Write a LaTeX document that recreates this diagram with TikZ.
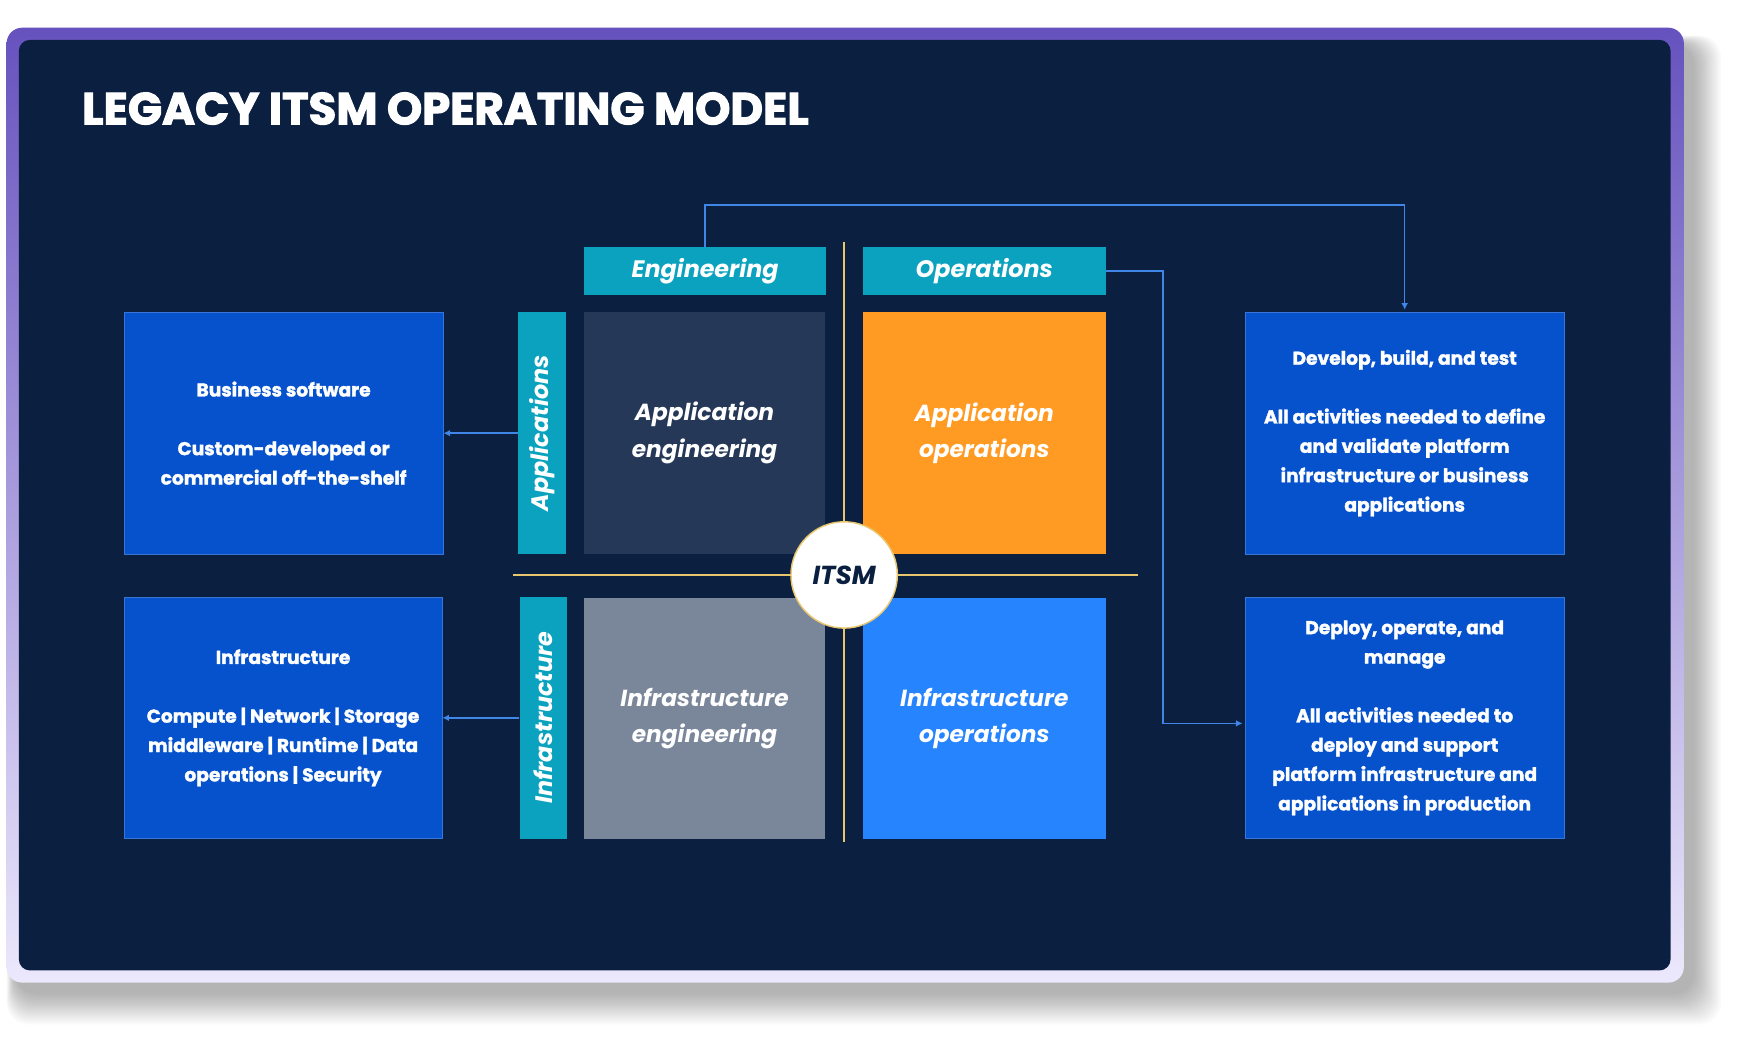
\documentclass[tikz,border=0pt]{standalone}
\usepackage{fontspec}
\setmainfont{Poppins}
\newfontfamily\heavyfont{Poppins}[UprightFeatures={FakeBold=0}, BoldFeatures={FakeBold=1.6}]
\newfontfamily\titlefont{Poppins}[UprightFeatures={FakeBold=0}, BoldFeatures={FakeBold=2.4}]
\usetikzlibrary{arrows.meta}
\definecolor{navy}{HTML}{0B1F40}
\definecolor{teal}{HTML}{0AA2BE}
\definecolor{slate}{HTML}{253858}
\definecolor{grayq}{HTML}{7A869A}
\definecolor{orangeq}{HTML}{FF9A22}
\definecolor{blueq}{HTML}{2684FF}
\definecolor{boxblue}{HTML}{0652CC}
\definecolor{connc}{HTML}{3F86E6}
\definecolor{linec}{HTML}{E8C66E}
\definecolor{frameTop}{HTML}{6652BE}
\definecolor{frameBot}{HTML}{ECE8FC}
\tikzset{
  quad/.style={minimum width=218pt, minimum height=218pt, inner sep=0pt, align=center, text=white,
    font=\fontsize{21}{33}\selectfont\bfseries\itshape},
  header/.style={fill=teal, minimum width=219pt, minimum height=43pt, inner sep=0pt, text=white,
    font=\fontsize{21.5}{22}\selectfont\bfseries\itshape},
  sidehdr/.style={fill=teal, minimum width=218pt, minimum height=43pt, inner sep=0pt, text=white, rotate=90,
    font=\fontsize{21.5}{22}\selectfont\bfseries\itshape},
  infobox/.style={fill=boxblue, draw=boxblue!80!white, line width=0.6pt, minimum width=288pt, minimum height=218pt,
    inner sep=0pt, align=center, text=white, font=\heavyfont\fontsize{16.8}{26.5}\selectfont\bfseries},
  conn/.style={draw=connc, line width=1.3pt, -{Latex[length=6pt,width=6pt]}},
  axis/.style={draw=linec, line width=1.3pt}
}
\begin{document}
\begin{tikzpicture}[x=1pt,y=-1pt]
\useasboundingbox (0,0) rectangle (1568,938);
\fill[white] (0,0) rectangle (1568,938);
% shadow
\foreach \i in {1,...,16} {
  \fill[black, opacity=0.018, rounded corners=20] (14-\i*0.5, 40-\i*0.5) rectangle (1528+\i*1.6, 896+\i*1.8);
}
% frame
\shade[rounded corners=14, top color=frameTop, bottom color=frameBot] (6,25) rectangle (1520,887);
\fill[navy, rounded corners=10] (17,36) rectangle (1508,876);
% title
\node[anchor=west, text=white, font=\titlefont\fontsize{40.5}{42}\selectfont\bfseries, inner sep=0pt] (title) at (74,98) {LEGACY ITSM OPERATING MODEL};
% axes
\coordinate (vt) at (762,218);
\coordinate (vb) at (762,760);
\coordinate (hl) at (463,519);
\coordinate (hr) at (1027,519);
\draw[axis] (vt) -- (vb);
\draw[axis] (hl) -- (hr);
% headers
\node[header] (eng) at (636.5,244.5) {Engineering};
\node[header] (ops) at (888.5,244.5) {Operations};
\node[sidehdr] (appl) at (489.5,391) {Applications};
\node[sidehdr] (infl) at (490.5,648) {Infrastructure};
% quadrants
\node[quad, fill=slate] (ae) at (636,391) {Application\\engineering};
\node[quad, fill=orangeq, minimum width=219pt] (ao) at (888.5,391) {Application\\operations};
\node[quad, fill=grayq, minimum height=217pt] (ie) at (636,648.5) {Infrastructure\\engineering};
\node[quad, fill=blueq, minimum width=219pt, minimum height=217pt] (io) at (888.5,648.5) {Infrastructure\\operations};
% ITSM circle
\node[circle, fill=white, draw=linec, line width=1.3pt, minimum size=96pt, inner sep=0pt, text=navy,
  font=\fontsize{23.5}{24}\selectfont\bfseries\itshape] (itsm) at (762,519) {ITSM};
% info boxes
\node[infobox] (bs) at (256,391) {Business software\\[26.5pt]Custom-developed or\\commercial off-the-shelf};
\node[infobox, minimum width=287pt] (inf) at (255.5,648) {Infrastructure\\[26.5pt]Compute | Network | Storage\\middleware | Runtime | Data\\operations | Security};
\node[infobox] (dev) at (1268,391) {Develop, build, and test\\[26.5pt]All activities needed to define\\and validate platform\\infrastructure or business\\applications};
\node[infobox] (dep) at (1268,648) {Deploy, operate, and\\manage\\[26.5pt]All activities needed to\\deploy and support\\platform infrastructure and\\applications in production};
% connectors
\draw[conn] (appl.north) -- (bs.east);
\draw[conn] (infl.north) -- (inf.east);
\coordinate (tr) at (1268,185);
\draw[conn, shorten >=2pt] (eng.north) |- (tr) -- (dev.north);
\coordinate (rr) at (1050,244.5);
\draw[conn, shorten >=2pt] (ops.east) -- (rr) |- ([yshift=-5pt]dep.west);
\end{tikzpicture}
\end{document}
